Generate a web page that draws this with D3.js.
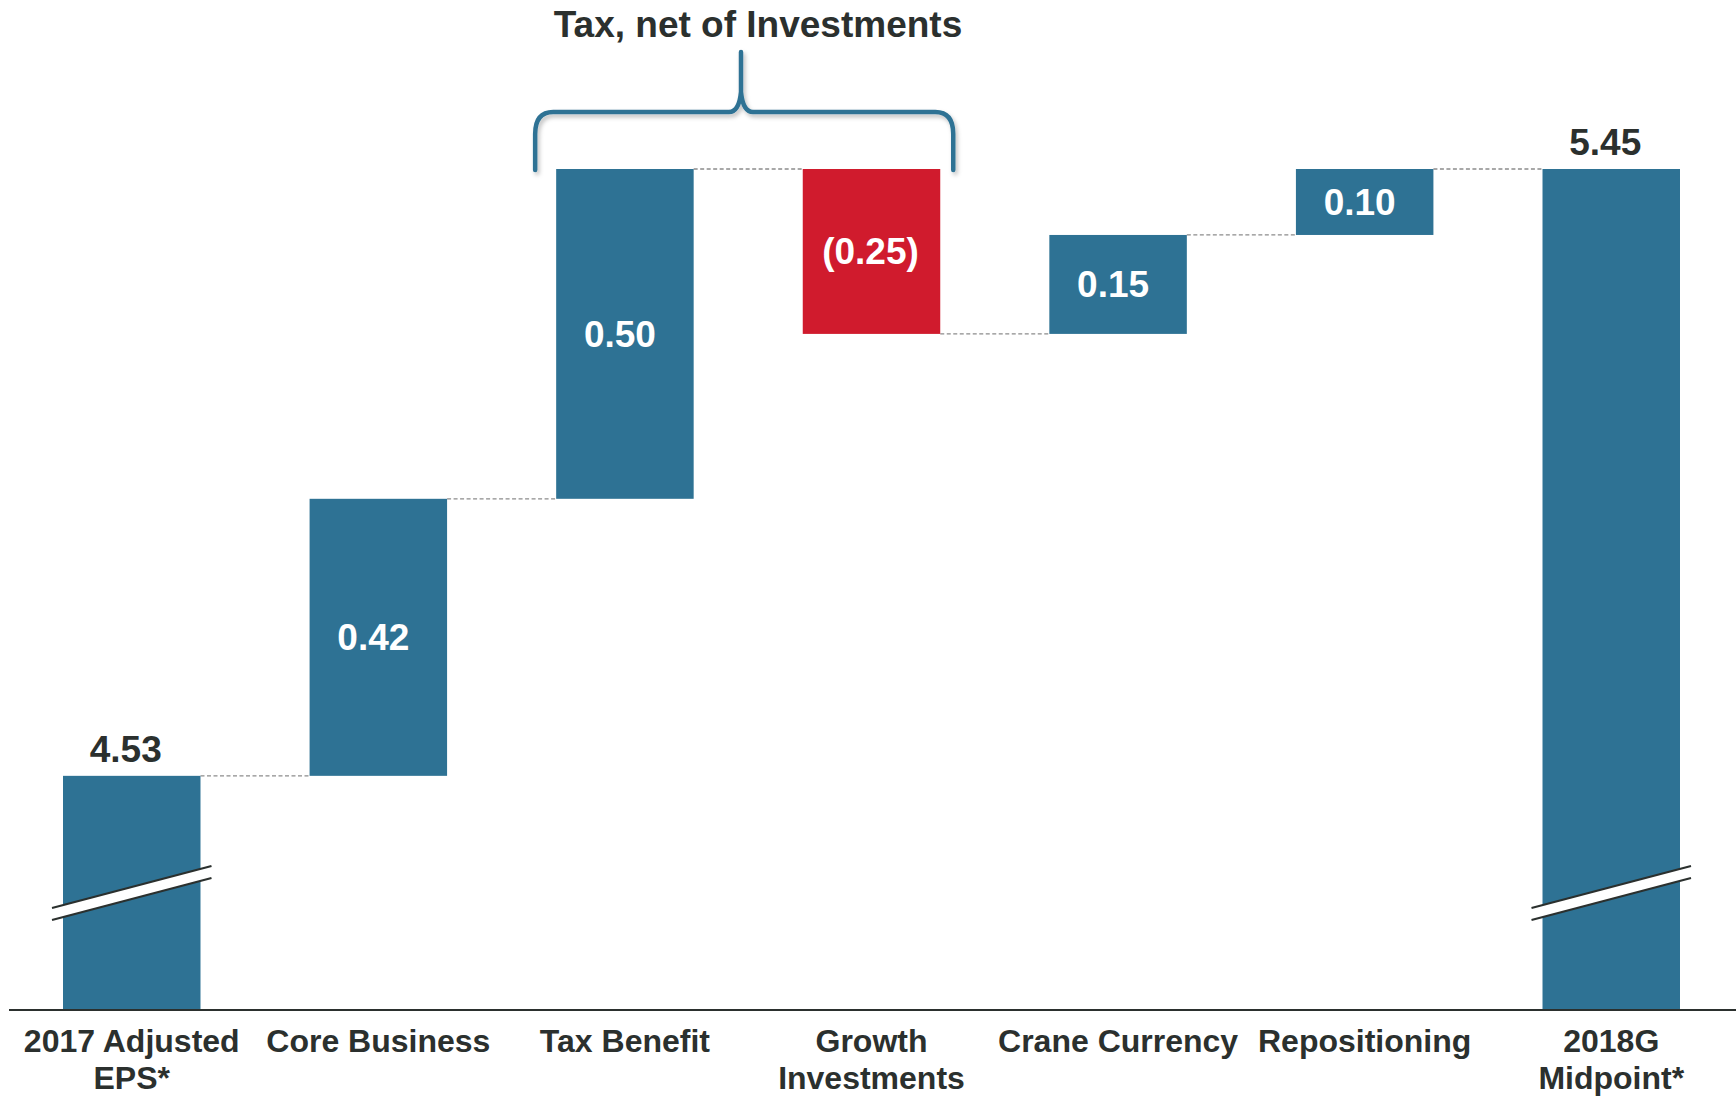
<!DOCTYPE html>
<html>
<head>
<meta charset="utf-8">
<script src="https://cdn.jsdelivr.net/npm/d3@7"></script>
<style>
  html, body { margin: 0; padding: 0; background: #ffffff; }
  svg { display: block; }
  text { font-family: "Liberation Sans", Arial, Helvetica, sans-serif; font-weight: bold; }
</style>
</head>
<body>
<svg id="chart" width="1736" height="1096"></svg>
<script>
// ---- data ----
const categories = ["2017 Adjusted EPS*", "Core Business", "Tax Benefit", "Growth Investments", "Crane Currency", "Repositioning", "2018G Midpoint*"];
const categoryLines = [["2017 Adjusted", "EPS*"], ["Core Business"], ["Tax Benefit"], ["Growth", "Investments"], ["Crane Currency"], ["Repositioning"], ["2018G", "Midpoint*"]];
const values = [4.53, 0.42, 0.50, -0.25, 0.15, 0.10, 5.45];
const barTypes = ["total", "delta", "delta", "delta", "delta", "delta", "total"];
const valueLabels = ["4.53", "0.42", "0.50", "(0.25)", "0.15", "0.10", "5.45"];
const bracketTitle = "Tax, net of Investments";
const bracketSpan = ["Tax Benefit", "Growth Investments"];
const axisBase = 4.175;   // value at the (broken) axis line
const axisTop = 5.45;

// ---- layout ----
const W = 1736, H = 1096;
const C = { blue: "#2e7294", red: "#d01b2d", text: "#2b302e", dash: "#8c8c8c", axis: "#2b302e" };

const svg = d3.select("#chart");

const x = d3.scaleBand().domain(categories).range([63, 1680]).paddingInner(0.4424).paddingOuter(0);
const y = d3.scaleLinear().domain([axisBase, axisTop]).range([1010, 169]);

// compute waterfall segments
let running = 0;
const bars = categories.map((c, i) => {
  let start, end;
  if (barTypes[i] === "total") { start = axisBase; end = values[i]; running = values[i]; }
  else { start = running; end = running + values[i]; running = end; }
  return { cat: c, i, start, end, value: values[i], type: barTypes[i], label: valueLabels[i] };
});

// defs: shadow for bracket
const defs = svg.append("defs");
const f = defs.append("filter").attr("id", "shadow").attr("x", "-10%").attr("y", "-10%").attr("width", "130%").attr("height", "140%");
f.append("feDropShadow").attr("dx", 2).attr("dy", 3).attr("stdDeviation", 2).attr("flood-color", "#000").attr("flood-opacity", 0.25);

// connectors
const conn = svg.append("g");
bars.slice(0, -1).forEach((b, i) => {
  const nb = bars[i + 1];
  const level = b.end;
  conn.append("line")
    .attr("x1", x(b.cat) + x.bandwidth()).attr("x2", x(nb.cat))
    .attr("y1", y(level)).attr("y2", y(level))
    .attr("stroke", C.dash).attr("stroke-width", 1.3).attr("stroke-dasharray", "4,2.5");
});

// bars
svg.append("g").selectAll("rect").data(bars).join("rect")
  .attr("x", d => x(d.cat))
  .attr("width", x.bandwidth())
  .attr("y", d => y(Math.max(d.start, d.end)))
  .attr("height", d => Math.abs(y(d.start) - y(d.end)))
  .attr("fill", d => d.value < 0 ? C.red : C.blue);

// break marks on total bars
bars.filter(d => d.type === "total").forEach(d => {
  const x0 = x(d.cat) - 11, x1 = x(d.cat) + x.bandwidth() + 11;
  const yl = 908, yr = 866, gap = 12;
  const g = svg.append("g");
  g.append("path").attr("d", `M${x0},${yl} L${x1},${yr} L${x1},${yr + gap} L${x0},${yl + gap} Z`).attr("fill", "#fff");
  g.append("line").attr("x1", x0).attr("y1", yl).attr("x2", x1).attr("y2", yr).attr("stroke", C.axis).attr("stroke-width", 2.2);
  g.append("line").attr("x1", x0).attr("y1", yl + gap).attr("x2", x1).attr("y2", yr + gap).attr("stroke", C.axis).attr("stroke-width", 2.2);
});

// value labels
bars.forEach(d => {
  const cx = x(d.cat) + x.bandwidth() / 2;
  if (d.type === "total") {
    svg.append("text").attr("x", cx - 6).attr("y", y(d.end) - 14)
      .attr("text-anchor", "middle").attr("font-size", 37).attr("fill", C.text).text(d.label);
  } else {
    const mid = (y(d.start) + y(d.end)) / 2;
    svg.append("text").attr("x", cx - (d.value < 0 ? 1 : 5)).attr("y", mid).attr("dy", "0.35em")
      .attr("text-anchor", "middle").attr("font-size", 37).attr("fill", "#fff").text(d.label);
  }
});

// axis line
svg.append("line").attr("x1", 9).attr("x2", W).attr("y1", y(axisBase)).attr("y2", y(axisBase))
  .attr("stroke", C.axis).attr("stroke-width", 2);

// category labels
categories.forEach((c, i) => {
  const t = svg.append("text").attr("x", x(c) + x.bandwidth() / 2).attr("y", 1052)
    .attr("text-anchor", "middle").attr("font-size", 32).attr("fill", C.text);
  categoryLines[i].forEach((ln, k) => {
    t.append("tspan").attr("x", x(c) + x.bandwidth() / 2).attr("dy", k === 0 ? 0 : 37).text(ln);
  });
});

// bracket
const bl = x(bracketSpan[0]) - 21, br = x(bracketSpan[1]) + x.bandwidth() + 13;
const bm = 741;
const yb = 170, yh = 112, yt = 52, r = 14;
const bracePath = `M${bl},${yb} L${bl},${yh + r + 8} Q${bl},${yh} ${bl + r + 4},${yh} L${bm - 12},${yh} Q${bm - 2},${yh} ${bm},${yh - 20} L${bm},${yt}
 M${bm},${yh - 20} Q${bm + 2},${yh} ${bm + 12},${yh} L${br - r - 4},${yh} Q${br},${yh} ${br},${yh + r + 8} L${br},${yb}`;
svg.append("path").attr("d", bracePath).attr("fill", "none").attr("stroke", C.blue)
  .attr("stroke-width", 4.5).attr("stroke-linecap", "round").attr("stroke-linejoin", "round").attr("filter", "url(#shadow)");

svg.append("text").attr("x", 758).attr("y", 37).attr("text-anchor", "middle")
  .attr("font-size", 37).attr("fill", C.text).text(bracketTitle);
</script>
</body>
</html>
